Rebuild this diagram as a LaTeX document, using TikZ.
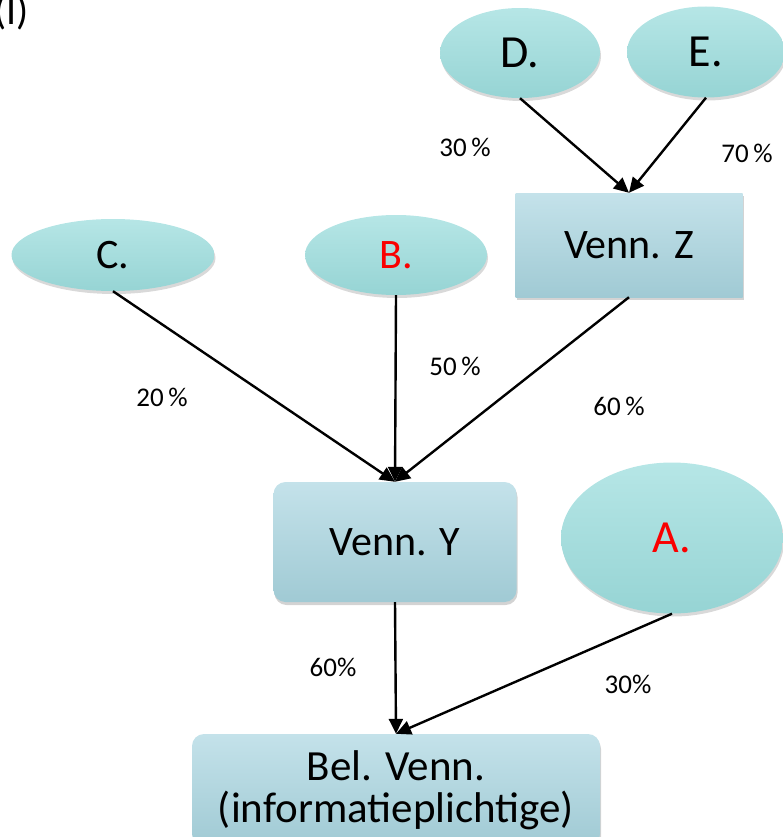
\documentclass[tikz,border=0pt]{standalone}
\usepackage{fontspec}
\setmainfont{Carlito}
\usepackage{xcolor}
\usetikzlibrary{arrows.meta,shapes.geometric,shadows}

\begin{document}
\begin{tikzpicture}[x=1pt,y=-1pt]
        % Define colors - turquoise for partners, blue-grey for companies
        \definecolor{partytop}{RGB}{182,230,230}
        \definecolor{partybot}{RGB}{150,212,212}
        \definecolor{venntop}{RGB}{196,226,234}
        \definecolor{vennbot}{RGB}{160,202,212}
        \definecolor{namered}{RGB}{250,0,0}

        \tikzset{
            party/.style={ellipse, inner sep=0pt, top color=partytop, bottom color=partybot,
                drop shadow={opacity=0.3, shadow xshift=1pt, shadow yshift=-3pt},
                font=\fontsize{42}{46}\selectfont},
            vennbox/.style={rectangle, inner sep=0pt, top color=venntop, bottom color=vennbot,
                drop shadow={opacity=0.35, shadow xshift=1pt, shadow yshift=-3pt},
                font=\fontsize{42}{41}\selectfont, align=center},
            share/.style={font=\fontsize{27}{30}\selectfont},
            link/.style={-{Triangle[length=15pt,width=14pt]}, line width=2.4pt}
        }

        \useasboundingbox (0,0) rectangle (783,837);

        % Title mark (partly cut off)
        \node[anchor=base east, inner sep=0pt, font=\fontsize{40}{44}\selectfont] (mark) at (29,25) {(I)};

        % Top partners of Venn. Z
        \node[party, minimum width=160pt, minimum height=90pt, font=\fontsize{46}{50}\selectfont] (D) at (520,53) {D.};
        \node[party, minimum width=158pt, minimum height=91pt, font=\fontsize{46}{50}\selectfont] (E) at (706,52) {E.};

        % Venn. Z - square corners
        \node[vennbox, minimum width=227pt, minimum height=104pt] (Z) at (629,245) {Venn. Z};

        % Partners of Venn. Y
        \node[party, minimum width=203pt, minimum height=72pt] (C) at (113,255) {C.};
        \node[party, minimum width=182pt, minimum height=80pt] (B) at (396,255) {\textcolor{namered}{B.}};

        % Venn. Y and A.
        \node[vennbox, rounded corners=12pt, minimum width=243pt, minimum height=120pt] (Y) at (395,542) {Venn. Y};
        \node[party, minimum width=222pt, minimum height=151pt, font=\fontsize{46}{50}\selectfont] (A) at (672,538) {\textcolor{namered}{A.}};

        % Reporting company at the bottom
        \node[vennbox, rounded corners=12pt, minimum width=408pt, minimum height=112pt,
            font=\fontsize{43}{42}\selectfont] (bel) at (396,790) {Bel. Venn.\\(informatieplichtige)};

        % Arrows
        \draw[link] (D.south) -- (Z.north);
        \draw[link] (E.south) -- (Z.north);
        \draw[link] (C.south) -- (Y.north);
        \draw[link] (B.south) -- (Y.north);
        \draw[link] (Z.south) -- (Y.north);
        \draw[link] (Y.south) -- (bel.north);
        \draw[link] (A.south) -- (bel.north);

        % Shares
        \node[share] (pD) at (465,147) {30\,\%};
        \node[share] (pE) at (747,153) {70\,\%};
        \node[share] (pC) at (162,397) {20\,\%};
        \node[share] (pB) at (455,366) {50\,\%};
        \node[share] (pZ) at (619,406) {60\,\%};
        \node[share] (pY) at (333,667) {60\%};
        \node[share] (pA) at (628,684) {30\%};
    \end{tikzpicture}
\end{document}
